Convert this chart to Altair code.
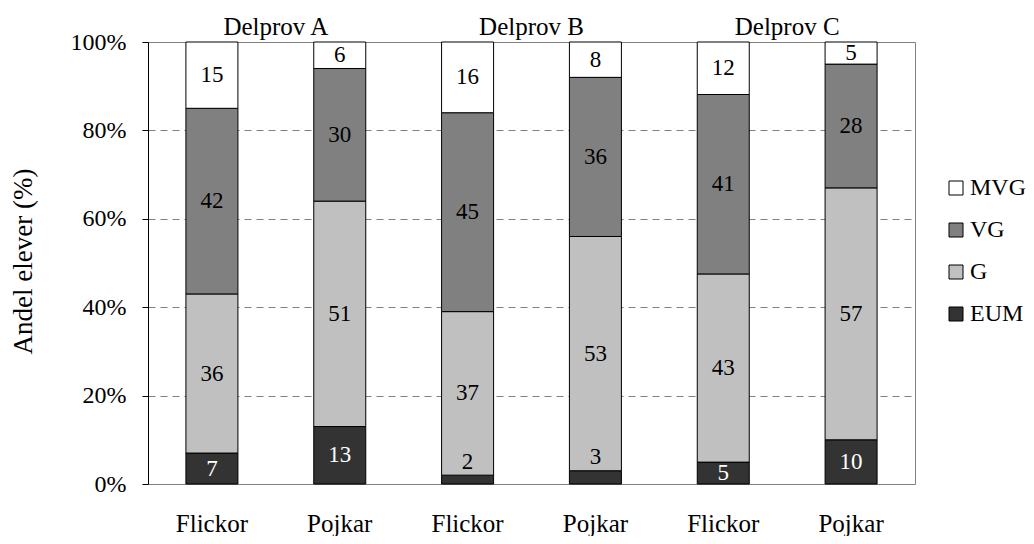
import altair as alt
import pandas as pd

# ---- data ----
delprov = ["Delprov A", "Delprov A", "Delprov B", "Delprov B", "Delprov C", "Delprov C"]
kon = ["Flickor", "Pojkar", "Flickor", "Pojkar", "Flickor", "Pojkar"]
EUM = [7, 13, 2, 3, 5, 10]
G = [36, 51, 37, 53, 43, 57]
VG = [42, 30, 45, 36, 41, 28]
MVG = [15, 6, 16, 8, 12, 5]
grades = ["EUM", "G", "VG", "MVG"]
legend_order = ["MVG", "VG", "G", "EUM"]
grade_colors = ["#ffffff", "#808080", "#c0c0c0", "#333333"]
y_ticks = [0, 20, 40, 60, 80, 100]
group_titles = ["Delprov A", "Delprov B", "Delprov C"]

FONT = "Liberation Serif, Times New Roman, serif"

keys = [f"{d}|{k}" for d, k in zip(delprov, kon)]
rows = []
for i in range(len(keys)):
    vals = [EUM[i], G[i], VG[i], MVG[i]]
    tot = sum(vals)
    cum = 0
    for g, v in zip(grades, vals):
        y0 = cum / tot * 100
        cum += v
        y1 = cum / tot * 100
        ly = (y0 + y1) / 2 if v >= 4 else y1 + 3
        rows.append(dict(key=keys[i], grade=g, value=v, y0=y0, y1=y1, ly=ly))
df = pd.DataFrame(rows)

df_top = pd.DataFrame({"key": [keys[0], keys[2], keys[4]], "label": group_titles})

x_scale = alt.Scale(paddingInner=0, paddingOuter=0)

bars = alt.Chart(df).mark_bar(size=52, stroke="black", strokeWidth=1).encode(
    x=alt.X(
        "key:N",
        sort=keys,
        scale=x_scale,
        axis=alt.Axis(
            title=None,
            labelExpr="split(datum.label, '|')[1]",
            ticks=False,
            domain=False,
            grid=False,
            labelAngle=0,
            labelFont=FONT,
            labelFontSize=25,
            labelBaseline="alphabetic",
            labelPadding=47,
        ),
    ),
    y=alt.Y(
        "y0:Q",
        scale=alt.Scale(domain=[0, 100], nice=False),
        axis=alt.Axis(
            values=y_ticks,
            labelExpr="datum.value + '%'",
            title="Andel elever (%)",
            titleFont=FONT,
            labelFont=FONT,
            titleFontSize=27,
            titleFontWeight="normal",
            titleAngle=270,
            titleAlign="center",
            titleBaseline="middle",
            titleX=-125,
            titleY=219,
            labelFontSize=24,
            labelPadding=16,
            tickSize=6,
            tickColor="black",
            domainColor="black",
            gridColor="#808080",
            gridDash=[7, 5],
        ),
    ),
    y2="y1:Q",
    color=alt.Color(
        "grade:N",
        scale=alt.Scale(domain=legend_order, range=grade_colors),
        legend=alt.Legend(
            title=None,
            orient="none",
            legendX=796,
            legendY=134,
            symbolType="square",
            symbolSize=196,
            symbolStrokeColor="black",
            symbolStrokeWidth=1,
            symbolOpacity=1,
            labelFont=FONT,
            labelFontSize=24,
            labelOffset=2,
            rowPadding=18,
            padding=0,
        ),
    ),
)

labels = alt.Chart(df).mark_text(fontSize=23, baseline="middle", font=FONT).encode(
    x=alt.X("key:N", sort=keys),
    y=alt.Y("ly:Q"),
    text=alt.Text("value:Q"),
    color=alt.condition(
        "datum.grade == 'EUM' && datum.value >= 4", alt.value("white"), alt.value("black")
    ),
)

tops = alt.Chart(df_top).mark_text(fontSize=25, baseline="alphabetic", font=FONT).encode(
    x=alt.X("key:N", sort=keys, bandPosition=1),
    y=alt.value(-7),
    text="label:N",
)

chart = (
    alt.layer(bars, labels, tops)
    .properties(
        width=767,
        height=442,
        autosize=alt.AutoSizeParams(type="none"),
        padding={"left": 140, "top": 34, "right": 111, "bottom": 52},
    )
    .configure(font=FONT)
    .configure_view(stroke="#808080", strokeWidth=1)
    .configure_axis(labelColor="black", titleColor="black")
    .configure_legend(labelColor="black")
)

chart.save("out.html", embed_options={"renderer": "svg", "actions": False})
